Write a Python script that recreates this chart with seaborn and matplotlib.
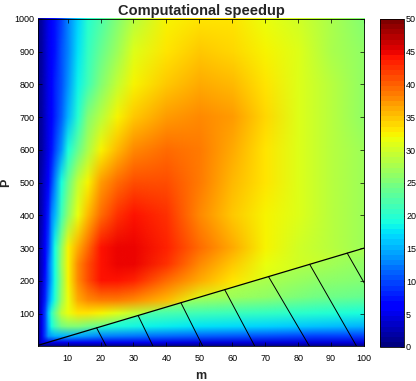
import numpy as np
import matplotlib
matplotlib.use("Agg")
import matplotlib.pyplot as plt
from matplotlib.colors import ListedColormap, Normalize
from matplotlib.cm import ScalarMappable
from matplotlib.patches import Polygon
from matplotlib.image import NonUniformImage
import seaborn as sns

# ---------------- data ----------------
# grid for the region above the dividing line (P >= 3 m)
m_vals = [1, 2, 3, 4, 5, 6, 8, 10, 13, 16, 20, 25, 30, 40, 50, 60, 70, 80, 90, 100]
P_vals = [1, 10, 30, 60, 100, 140, 200, 250, 300, 400, 500, 600, 700, 800, 900, 1000]

s_P1    = [1, 2, 3, 3.5, 4, 4, 4, 4, 4, 4, 4, 4, 4, 4, 4, 4, 4, 4, 4, 4]
s_P10   = [0.8, 4, 5, 5, 5, 5, 5, 5, 5, 5, 5, 5, 5, 5, 5, 5, 5, 5, 5, 5]
s_P30   = [1, 5, 10, 13.5, 14.5, 15, 15, 15, 15, 14.5, 14, 13.5, 13, 12.5, 12, 11.5, 11, 10.5, 10, 10]
s_P60   = [1, 5, 10, 15.5, 19.5, 21.7, 24.5, 25, 25, 24.7, 24, 23, 22, 21, 20, 19, 18, 17, 16.5, 16]
s_P100  = [1, 5, 10, 16, 20.5, 23.8, 29.5, 32, 33, 33, 32.5, 31, 29, 27, 26, 25, 24, 23, 22, 21]
s_P140  = [1, 4, 8, 12.5, 16.5, 20, 27, 32, 36.5, 38, 38.5, 38.3, 37.5, 35.5, 31, 30, 29, 28, 27, 26]
s_P200  = [1, 3.8, 7.3, 11.5, 15.5, 19, 26.5, 32.5, 37.5, 40.8, 44, 44.5, 43, 39.5, 36, 33, 31, 30, 29, 28]
s_P250  = [1, 3.4, 6.8, 11, 15.5, 19.5, 27, 32.5, 37.5, 40.8, 44, 45, 45, 42.5, 38, 34.5, 31.5, 30, 29, 28]
s_P300  = [1, 3.2, 6.2, 10, 14.6, 19.5, 26.2, 32.2, 36.7, 39.8, 43.9, 45, 45.2, 43.5, 39.5, 36, 32.7, 30.3, 28.5, 27.3]
s_P400  = [1, 2.8, 5, 8.3, 12.5, 15.6, 21.3, 26, 32, 35.8, 39.8, 42.5, 43.8, 42.3, 38, 35, 32.5, 30.8, 28.5, 27]
s_P500  = [1, 2.5, 4.5, 6.9, 10, 13.1, 19.4, 23.8, 29.5, 32.8, 36.8, 39.8, 41.3, 41.3, 38.6, 35.5, 33, 30.8, 28.7, 27]
s_P600  = [1, 2.2, 3.8, 5.4, 7.3, 9.4, 13.7, 18.75, 24.1, 28.1, 32.1, 35.2, 37.6, 39.3, 38.8, 36.3, 33.5, 31, 28.7, 26.8]
s_P700  = [0.9, 2, 3.5, 5, 6.25, 8, 11.6, 15.2, 20.3, 25, 28.6, 32.2, 34.5, 37, 37.8, 36.8, 34, 31, 28.5, 26.5]
s_P800  = [0.8, 2, 3.6, 5.2, 6.5, 7.9, 10.9, 13.9, 18.1, 21.6, 25.4, 29.6, 32.5, 35, 36, 35.4, 33.4, 31, 28.5, 26.3]
s_P900  = [0.8, 2, 3.5, 5, 6.25, 7.6, 10.4, 13.2, 17.4, 20.4, 23.8, 27.3, 30.6, 33.5, 34.7, 34.3, 32.6, 30.5, 28.1, 25.9]
s_P1000 = [0.8, 2, 3.5, 5, 6.25, 7.5, 10, 12.5, 16.7, 19.8, 22.4, 25.5, 28.3, 32.3, 33.5, 33.3, 32, 30, 27.7, 25.5]

# grid for the hatched region below the line (P < 3 m)
m_low = [1, 10, 20, 35, 50, 70, 85, 100]
P_low = [1, 10, 30, 60, 100, 150, 200, 250, 300]
lo_P1   = [1, 1, 1, 1, 1, 1, 1, 1]
lo_P10  = [4, 5, 5, 4.8, 4.6, 4.4, 4.2, 4.0]
lo_P30  = [12, 15, 13, 12, 11, 10.4, 10, 9.5]
lo_P60  = [20, 22, 20, 18.5, 17.8, 17, 16.3, 15.5]
lo_P100 = [23, 24, 23.5, 22, 21.5, 20.8, 20.2, 19.5]
lo_P150 = [29, 29, 29, 29, 28, 26, 24.5, 23.5]
lo_P200 = [29, 29, 29, 29, 29, 28, 26.5, 25.5]
lo_P250 = [29, 29, 29, 29, 29, 28.5, 27.5, 26.5]
lo_P300 = [29, 29, 29, 29, 29, 28.5, 28, 27.5]

# dividing line P = 3 m and its hatch marks
line_m = [1, 100]
line_P = [3, 300]
hatch_m_top = [18.8, 31.4, 44.4, 57.7, 71.0, 83.5, 94.9]
hatch_m_bot = [21.7, 35.9, 51.0, 66.8, 83.4, 97.7, 111.0]

x_ticks = [10, 20, 30, 40, 50, 60, 70, 80, 90, 100]
y_ticks = [100, 200, 300, 400, 500, 600, 700, 800, 900, 1000]
c_ticks = [0, 5, 10, 15, 20, 25, 30, 35, 40, 45, 50]

# ---------------- drawing ----------------
sns.set_theme(style="ticks")
plt.rcParams['font.family'] = ['Liberation Sans', 'DejaVu Sans']

W, H = 416, 381
fig = plt.figure(figsize=(W / 100, H / 100), dpi=100)
ax = fig.add_axes([38 / W, 1 - 346 / H, 326 / W, 327 / H])
cax = fig.add_axes([380 / W, 1 - 347 / H, 24 / W, 328 / H])

jet = ListedColormap(plt.get_cmap("jet")(np.linspace(0, 1, 64)))
norm = Normalize(0, 50)

Z_hi = np.array([s_P1, s_P10, s_P30, s_P60, s_P100, s_P140, s_P200, s_P250, s_P300,
                 s_P400, s_P500, s_P600, s_P700, s_P800, s_P900, s_P1000])
im_hi = NonUniformImage(ax, interpolation='bilinear', cmap=jet, norm=norm,
                        extent=(m_vals[0], m_vals[-1], P_vals[0], P_vals[-1]))
im_hi.set_data(m_vals, P_vals, Z_hi)
ax.add_image(im_hi)

Z_lo = np.array([lo_P1, lo_P10, lo_P30, lo_P60, lo_P100, lo_P150, lo_P200, lo_P250, lo_P300])
im_lo = NonUniformImage(ax, interpolation='bilinear', cmap=jet, norm=norm,
                        extent=(m_low[0], m_low[-1], P_low[0], P_low[-1]))
im_lo.set_data(m_low, P_low, Z_lo)
ax.add_image(im_lo)
clip = Polygon([(line_m[0], P_low[0] - 5), (line_m[0], line_P[0]), (line_m[1], line_P[1]),
                (line_m[1], P_low[0] - 5)], closed=True, transform=ax.transData)
im_lo.set_clip_path(clip)

ax.plot(line_m, line_P, color='black', lw=0.9, zorder=5)
for mt, mb in zip(hatch_m_top, hatch_m_bot):
    ax.plot([mt, mb], [3 * mt, P_vals[0]], color='black', lw=0.7, zorder=5)

ax.set_xlim(1, 100)
ax.set_ylim(1, 1000)
ax.set_xticks(x_ticks)
ax.set_yticks(y_ticks)
ax.tick_params(axis='x', direction='in', length=3, width=0.5, top=True, labelsize=6.5,
               pad=6, colors='black')
ax.tick_params(axis='y', direction='in', length=3, width=0.5, right=True, labelsize=6.5,
               pad=2.5, colors='black')
for s in ax.spines.values():
    s.set_color('black')
    s.set_linewidth(0.6)
    s.set_visible(True)

ax.set_title("Computational speedup", fontsize=10.5, fontweight='bold', pad=3)
ax.set_xlabel("m", fontsize=9, fontweight='bold', labelpad=5)
ax.set_ylabel("P", fontsize=9, fontweight='bold', labelpad=2)

cb = fig.colorbar(ScalarMappable(norm=norm, cmap=jet), cax=cax, ticks=c_ticks)
cb.outline.set_edgecolor('black')
cb.outline.set_linewidth(0.6)
cax.tick_params(direction='in', length=3, width=0.5, labelsize=6.5, pad=1.5, colors='black')

fig.savefig("out.png", dpi=100)
